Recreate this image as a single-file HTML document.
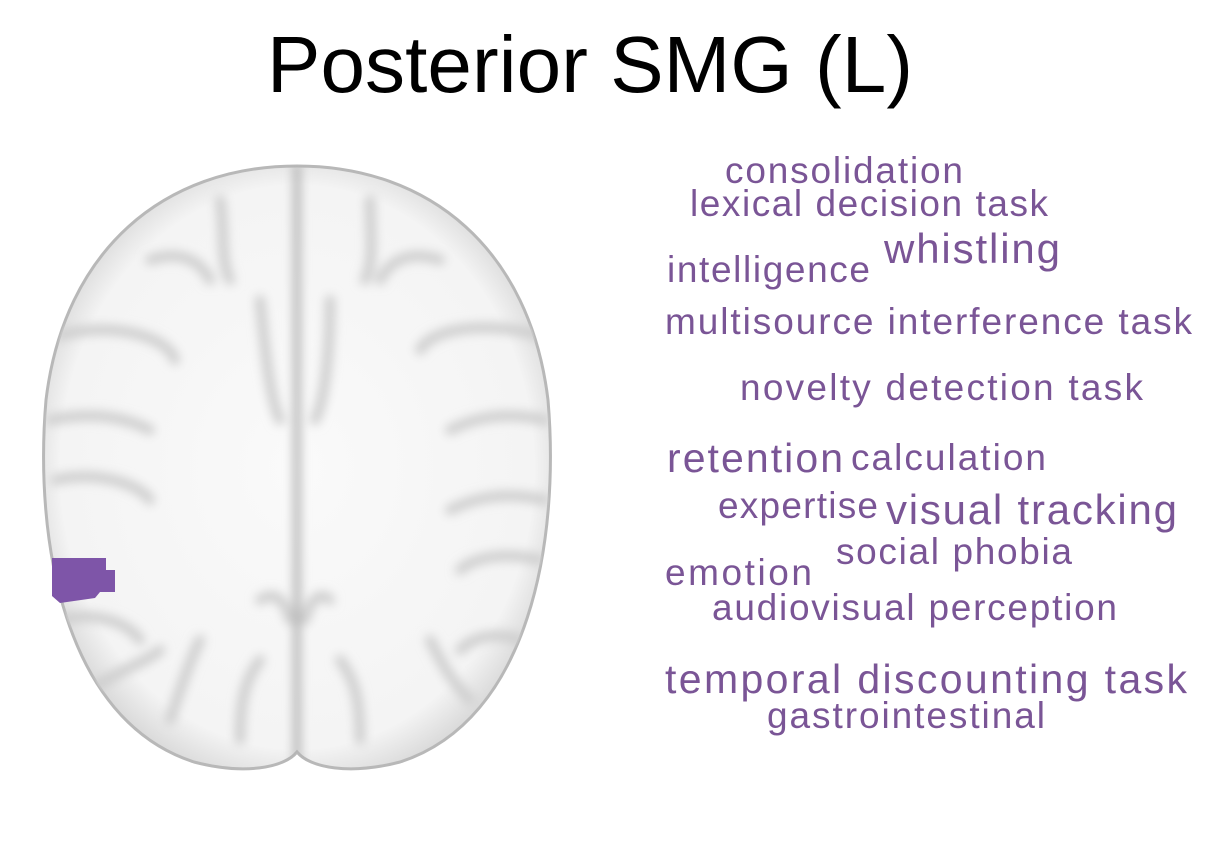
<!DOCTYPE html>
<html><head><meta charset="utf-8"><style>
html,body{margin:0;padding:0;background:#fff;width:1215px;height:850px;overflow:hidden}
svg{display:block}
text{font-family:"Liberation Sans","DejaVu Sans",sans-serif}
.w{fill:#7a5596}
</style></head><body>
<svg width="1215" height="850" viewBox="0 0 1215 850">
<defs>
<radialGradient id="bg" cx="50%" cy="50%" r="55%">
<stop offset="0" stop-color="#fafafa"/><stop offset="0.85" stop-color="#f4f4f4"/><stop offset="1" stop-color="#d5d5d5"/>
</radialGradient>
<filter id="bl"><feGaussianBlur stdDeviation="5"/></filter>
<clipPath id="bc"><path d="M297,166 C430,166 530,250 548,400 C560,540 530,720 400,762 C350,775 310,768 297,752 C284,768 244,775 194,762 C64,720 34,540 46,400 C64,250 164,166 297,166 Z"/></clipPath>
</defs>
<text x="590" y="92" text-anchor="middle" font-size="80" textLength="646" fill="#000">Posterior SMG (L)</text>
<g>
<path d="M297,166 C430,166 530,250 548,400 C560,540 530,720 400,762 C350,775 310,768 297,752 C284,768 244,775 194,762 C64,720 34,540 46,400 C64,250 164,166 297,166 Z" fill="url(#bg)" stroke="#b8b8b8" stroke-width="3"/>
<g clip-path="url(#bc)" stroke="#cdcdcd" fill="none" stroke-linecap="round" filter="url(#bl)">
<line x1="297" y1="166" x2="297" y2="760" stroke="#b0b0b0" stroke-width="7"/>
<g stroke-width="10">
<path d="M60,335 C120,320 170,340 175,360"/><path d="M50,420 C100,410 130,420 150,430"/>
<path d="M55,480 C100,470 140,485 150,500"/><path d="M60,620 C100,610 130,625 140,640"/>
<path d="M90,690 C120,670 150,660 160,650"/><path d="M170,720 C180,690 190,660 200,640"/>
<path d="M240,740 C240,700 245,680 260,660"/><path d="M260,600 C275,590 285,600 290,620"/>
<path d="M150,260 C180,250 200,260 210,280"/><path d="M220,200 C225,230 220,260 230,280"/>
<path d="M260,300 C265,350 270,400 280,420"/>
<path d="M540,335 C480,320 430,330 420,350"/><path d="M545,420 C500,410 470,420 450,430"/>
<path d="M545,500 C500,490 470,500 450,510"/><path d="M540,560 C500,550 470,560 460,570"/>
<path d="M520,640 C490,630 470,640 460,650"/><path d="M470,700 C450,680 440,660 430,640"/>
<path d="M360,740 C360,700 355,680 340,660"/><path d="M330,600 C320,590 310,600 305,620"/>
<path d="M440,260 C410,250 390,260 380,280"/><path d="M370,200 C370,230 375,260 365,280"/>
<path d="M330,300 C330,350 325,400 315,420"/>
</g></g>
<path d="M52,558 L106,558 L106,570 L115,570 L115,592 L100,592 L95,598 L60,603 L52,596 Z" fill="#7e55a8"/>
</g>
<g>
<text class="w" x="725" y="183" font-size="37" textLength="238">consolidation</text>
<text class="w" x="690" y="216" font-size="37" textLength="358">lexical decision task</text>
<text class="w" x="884" y="263" font-size="42" textLength="176">whistling</text>
<text class="w" x="667" y="282" font-size="37" textLength="203">intelligence</text>
<text class="w" x="665" y="334" font-size="37" textLength="527">multisource interference task</text>
<text class="w" x="740" y="400" font-size="37" textLength="403">novelty detection task</text>
<text class="w" x="667" y="472" font-size="41" textLength="176">retention</text>
<text class="w" x="851" y="470" font-size="37" textLength="195">calculation</text>
<text class="w" x="718" y="518" font-size="37" textLength="160">expertise</text>
<text class="w" x="886" y="524" font-size="42" textLength="291">visual tracking</text>
<text class="w" x="836" y="564" font-size="37" textLength="236">social phobia</text>
<text class="w" x="665" y="585" font-size="37" textLength="147">emotion</text>
<text class="w" x="712" y="620" font-size="37" textLength="405">audiovisual perception</text>
<text class="w" x="665" y="693" font-size="41" textLength="522">temporal discounting task</text>
<text class="w" x="767" y="728" font-size="37" textLength="278">gastrointestinal</text>
</g>
</svg>
</body></html>
